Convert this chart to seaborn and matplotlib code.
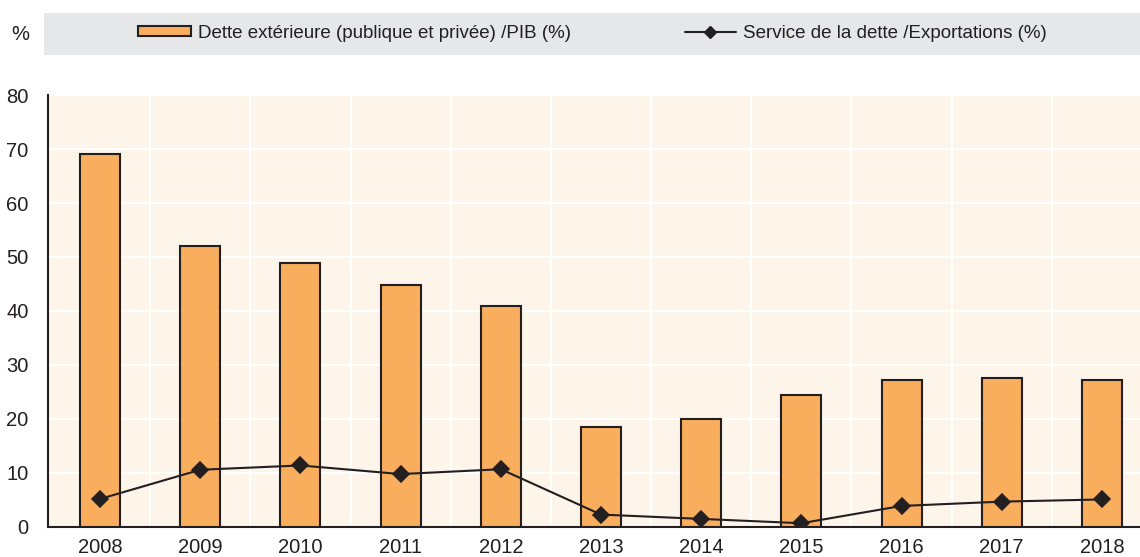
import matplotlib
matplotlib.use("Agg")
import matplotlib.pyplot as plt
import seaborn as sns
import pandas as pd
import numpy as np
from matplotlib.patches import Rectangle, Patch
from matplotlib.lines import Line2D

years = ["2008", "2009", "2010", "2011", "2012", "2013", "2014", "2015", "2016", "2017", "2018"]
dette_pib = [69.0, 52.0, 48.8, 44.8, 40.9, 18.5, 20.0, 24.4, 27.2, 27.6, 27.2]
service_export = [5.2, 10.6, 11.4, 9.8, 10.7, 2.3, 1.5, 0.7, 3.9, 4.7, 5.1]
label_bar = "Dette extérieure (publique et privée) /PIB (%)"
label_line = "Service de la dette /Exportations (%)"

sns.set_theme(style="white")
plt.rcParams['font.family'] = ['Liberation Sans Narrow', 'Liberation Sans', 'DejaVu Sans']

df = pd.DataFrame({"year": years, "dette": dette_pib, "service": service_export})

fig = plt.figure(figsize=(11.4, 5.57), dpi=100)
fig.patch.set_facecolor("white")
ax = fig.add_axes([48/1140, 30/557, 1 - 48/1140, (527-95)/557])
ax.set_facecolor("#FDF4EA")

ink = "#231F20"
bar_color = "#F9AE5E"
sns.barplot(data=df, x="year", y="dette", ax=ax, color=bar_color, width=0.4,
            edgecolor=ink, linewidth=1.5, saturation=1, zorder=3)
sns.pointplot(data=df, x="year", y="service", ax=ax, color=ink, markers="D",
              markersize=8, linewidth=1.5, zorder=5)

ax.set_xlim(-0.52, 10.38)
ax.set_ylim(0, 80)
ax.set_yticks(np.arange(0, 81, 10))
ax.set_xticks(np.arange(0.5, 10.5, 1), minor=True)
ax.tick_params(axis="x", which="major", length=0, labelsize=14.5, colors=ink, pad=8)
ax.tick_params(axis="x", which="minor", direction="in", length=4, width=1.2, color=ink)
ax.tick_params(axis="y", which="major", direction="in", length=4, width=1.2, labelsize=14.5,
               colors=ink, pad=14)
ax.grid(axis="y", which="major", color="white", linewidth=1.5, zorder=0)
ax.grid(axis="x", which="minor", color="white", linewidth=1.5, zorder=0)
ax.grid(axis="x", which="major", visible=False)
ax.set_axisbelow(True)
ax.set_xlabel("")
ax.set_ylabel("")
for s in ["top", "right"]:
    ax.spines[s].set_visible(False)
for s in ["left", "bottom"]:
    ax.spines[s].set_color(ink)
    ax.spines[s].set_linewidth(1.5)

# legend band
band = Rectangle((44/1140, 1 - 55/557), 1 - 44/1140, 42/557, transform=fig.transFigure,
                 facecolor="#E6E7E9", edgecolor="none", zorder=0)
fig.patches.append(band)
fig.text(20/1140, 1 - 35/557, "%", fontsize=14.5, color=ink, ha="center", va="center")

h_bar = Patch(facecolor=bar_color, edgecolor=ink, linewidth=1.5)
h_line = Line2D([0], [0], color=ink, marker="D", markersize=6, linewidth=1.5)
common = dict(frameon=False, fontsize=13.5, handleheight=0.5, handletextpad=0.4,
              borderpad=0, borderaxespad=0, labelcolor=ink, loc="center left")
fig.legend([h_bar], [label_bar], bbox_to_anchor=(138/1140, 1 - 33/557),
           handlelength=2.8, **common)
fig.legend([h_line], [label_line], bbox_to_anchor=(685/1140, 1 - 33/557),
           handlelength=2.7, **common)

fig.savefig("out.png", dpi=100)
